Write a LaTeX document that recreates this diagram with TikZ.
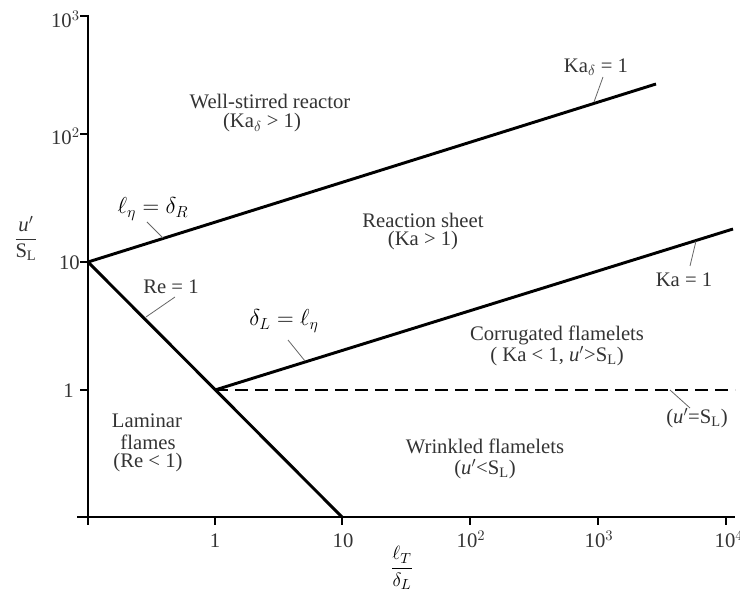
\documentclass[tikz,border=0pt]{standalone}
\usepackage{amsmath}
\usepackage{fontspec}
\setmainfont{Liberation Serif}
\begin{document}
\begin{tikzpicture}[x=0.75pt,y=-0.75pt,
  axis/.style={line width=2.2pt,black},
  regime/.style={line width=2.2pt,black},
  tick/.style={line width=2.2pt,black},
  leader/.style={line width=0.6pt,black!60},
  lbl/.style={text=black!80,font=\fontsize{15.5}{17}\selectfont,inner sep=0pt},
  lbltwo/.style={text=black!80,font=\fontsize{15.5}{16.2}\selectfont,inner sep=0pt,align=center},
  ticklbl/.style={text=black!80,font=\fontsize{15.5}{17}\selectfont,inner sep=0pt},
  mlbl/.style={text=black,font=\fontsize{18.5}{20}\selectfont,inner sep=0pt}]
\useasboundingbox (0,0) rectangle (740,599);
% axes
\coordinate (ytop) at (88,15);
\coordinate (ybot) at (88,525);
\coordinate (xl) at (77,517);
\coordinate (xr) at (735,517);
\draw[axis] (ytop) -- (ybot);
\draw[axis] (xl) -- (xr);
% y ticks
\foreach \y in {16,134,262,390}{
  \draw[tick] (80,\y) -- (88,\y);
}
\node[ticklbl,anchor=east] (y3) at (80,19) {10$^3$};
\node[ticklbl,anchor=east] (y2) at (80,136) {10$^2$};
\node[ticklbl,anchor=east] (y1) at (80,263) {10};
\node[ticklbl,anchor=east] (y0) at (74,391) {1};
% x ticks
\foreach \x in {215,342,470,598,726}{
  \draw[tick] (\x,517) -- (\x,525);
}
\node[ticklbl] (x0) at (215,541) {1};
\node[ticklbl] (x1) at (343,541) {10};
\node[ticklbl] (x2) at (471,539) {10$^2$};
\node[ticklbl] (x3) at (599,539) {10$^3$};
\node[ticklbl] (x4) at (729,539) {10$^4$};
% axis labels
\node[text=black!80,font=\fontsize{15.5}{17}\selectfont] (ylab) at (26,238) {$\dfrac{\text{\textit{u}}'}{\text{S}_\text{L}}$};
\node[text=black,font=\fontsize{15}{17}\selectfont] (xlab) at (402,568) {$\dfrac{\ell_T}{\delta_L}$};
% regime lines
\coordinate (O10) at (88,262);
\coordinate (A) at (656,84);
\coordinate (B) at (342,517);
\coordinate (P1) at (215,390);
\coordinate (C) at (733,229);
\coordinate (D) at (735,390);
\draw[regime] (O10) -- (A);
\draw[regime] (O10) -- (B);
\draw[regime] (P1) -- (C);
\draw[regime,line width=2.2pt,dash pattern=on 10pt off 5pt] (P1) -- (D);
% region labels
\node[lbl] (wsr) at (270,101) {Well-stirred reactor};
\node[lbl] (wsr2) at (262,123) {(Ka$_\delta$ > 1)};
\node[lbl] (rs) at (423,220) {Reaction sheet};
\node[lbl] (rs2) at (423,241) {(Ka > 1)};
\node[lbltwo] (cf) at (557,346) {Corrugated flamelets\\( Ka < 1, \textit{u}$'$>S$_\text{L}$)};
\node[lbltwo] (wf) at (485,459) {Wrinkled flamelets\\(\textit{u}$'$<S$_\text{L}$)};
\node[lbl] (lf1) at (147,421) {Laminar};
\node[lbl] (lf2) at (148,442) {flames};
\node[lbl] (lf3) at (148,463) {(Re < 1)};
% line labels with leaders
\node[lbl] (kad) at (596,67) {Ka$_\delta$ = 1};
\coordinate (kadp) at (594,102);
\draw[leader] (603,77) -- (kadp);
\node[lbl] (ka) at (684,280) {Ka = 1};
\coordinate (kap) at (696,241);
\draw[leader] (kap) -- (690,266);
\node[lbl] (usl) at (697,418) {(\textit{u}$'$=S$_\text{L}$)};
\draw[leader] (670,390) -- (690,408);
\node[lbl] (re) at (171,287) {Re = 1};
\draw[leader] (175,297) -- (146,317);
\node[mlbl] (ler) at (153,209) {$\ell_\eta = \delta_R$};
\draw[leader] (147,222) -- (163,238);
\node[mlbl] (dle) at (284,321) {$\delta_L = \ell_\eta$};
\draw[leader] (288,340) -- (305,361);
\end{tikzpicture}
\end{document}
